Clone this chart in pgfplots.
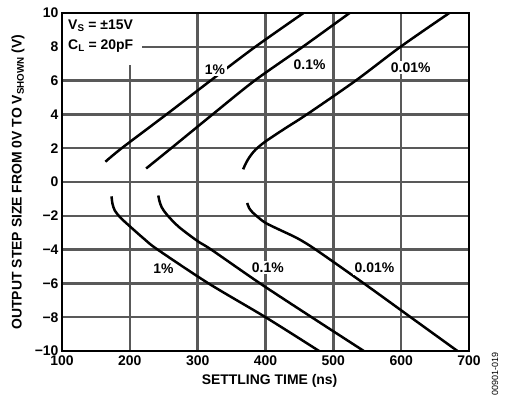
\documentclass[border=0pt]{standalone}
\usepackage{fontspec}
\setmainfont{Liberation Sans}
\usepackage{pgfplots}
\pgfplotsset{compat=1.18}
\begin{document}
\begin{tikzpicture}
\begin{axis}[
  scale only axis, width=407bp, height=338bp,
  xmin=100, xmax=700, ymin=-10, ymax=10,
  xtick={100,200,300,400,500,600,700},
  xticklabels={100,200,300,400,500,600,700},
  ytick={-10,-8,-6,-4,-2,0,2,4,6,8,10},
  yticklabels={−10,−8,−6,−4,−2,0,2,4,6,8,10},
  xmajorgrids=true, ymajorgrids=true,
  major grid style={line width=2.4pt, draw=black!65},
  tick style={draw=none},
  axis line style={line width=2.2pt},
  tick label style={font=\fontsize{14}{16}\selectfont\bfseries},
  xticklabel style={yshift=-1.5bp},
  label style={font=\fontsize{14}{16}\selectfont\bfseries},
  xlabel={SETTLING TIME (ns)},
  ylabel={OUTPUT STEP SIZE FROM 0V TO V\textsubscript{SHOWN} (V)},
  xlabel style={at={(axis description cs:0.51,-0.087)}, anchor=center},
  ylabel style={at={(axis description cs:-0.108,0.5)}, anchor=center},
]
\fill[white] (axis cs:100,10) rectangle (axis cs:217.7,6.92);
% positive curves
\addplot[black, line width=2.5pt, smooth, no marks] coordinates {
 (164,1.2) (188,2) (254,4) (319,6) (385,8) (456,10)};
\addplot[black, line width=2.5pt, smooth, no marks] coordinates {
 (224,0.8) (261,2) (322,4) (384,6) (455,8) (524,10)};
\addplot[black, line width=2.5pt, smooth, no marks] coordinates {
 (367,0.75) (371,1.1) (376,1.45) (385,1.9) (400,2.4) (430,3.2) (461,4) (533,6) (599,8) (671,10)};
% negative curves
\addplot[black, line width=2.5pt, smooth, no marks] coordinates {
 (173,-0.85) (174.5,-1.3) (178,-1.7) (186,-2.1) (198,-2.55) (222,-3.4) (241,-4) (316,-6) (400,-8) (479,-10)};
\addplot[black, line width=2.5pt, smooth, no marks] coordinates {
 (242,-0.8) (243.5,-1.1) (247,-1.5) (255,-1.95) (272,-2.65) (300,-3.5) (320,-4) (392,-6) (468,-8) (545,-10)};
\addplot[black, line width=2.5pt, smooth, no marks] coordinates {
 (373,-1.24) (376,-1.55) (381,-1.8) (388,-2.05) (400,-2.42) (422,-2.85) (447,-3.33) (474,-4) (545,-6) (614,-8) (683,-10)};
\node[font=\fontsize{14}{16}\selectfont\bfseries, fill=white, inner sep=1.5pt] at (axis cs:325.5,6.63) {1\%};
\node[font=\fontsize{14}{16}\selectfont\bfseries, fill=white, inner sep=1.5pt] at (axis cs:465,6.92) {0.1\%};
\node[font=\fontsize{14}{16}\selectfont\bfseries, fill=white, inner sep=1.5pt] at (axis cs:614,6.78) {0.01\%};
\node[font=\fontsize{14}{16}\selectfont\bfseries, fill=white, inner sep=1.5pt] at (axis cs:249.7,-5.15) {1\%};
\node[font=\fontsize{14}{16}\selectfont\bfseries, fill=white, inner sep=1.5pt] at (axis cs:403.5,-5.06) {0.1\%};
\node[font=\fontsize{14}{16}\selectfont\bfseries, fill=white, inner sep=1.5pt] at (axis cs:560.6,-5.1) {0.01\%};
\node[anchor=base west, inner sep=0pt, font=\fontsize{14}{16}\selectfont\bfseries] at (axis cs:108.9,9.03) {V\textsubscript{S} = ±15V};
\node[anchor=base west, inner sep=0pt, font=\fontsize{14}{16}\selectfont\bfseries] at (axis cs:108.9,7.85) {C\textsubscript{L} = 20pF};
\draw[line width=2.2pt] (rel axis cs:0,0) rectangle (rel axis cs:1,1);
\coordinate (SW) at (rel axis cs:0,0);
\coordinate (SE) at (rel axis cs:1,0);
\coordinate (NE) at (rel axis cs:1,1);
\end{axis}
\node[rotate=90, inner sep=0pt, font=\fontsize{9}{10}\selectfont] at ([shift={(26bp,-23bp)}]SE) {00901-019};
\pgfresetboundingbox
\path ([shift={(-62bp,-47bp)}]SW) rectangle ([shift={(36bp,13bp)}]NE);
\end{tikzpicture}
\end{document}
